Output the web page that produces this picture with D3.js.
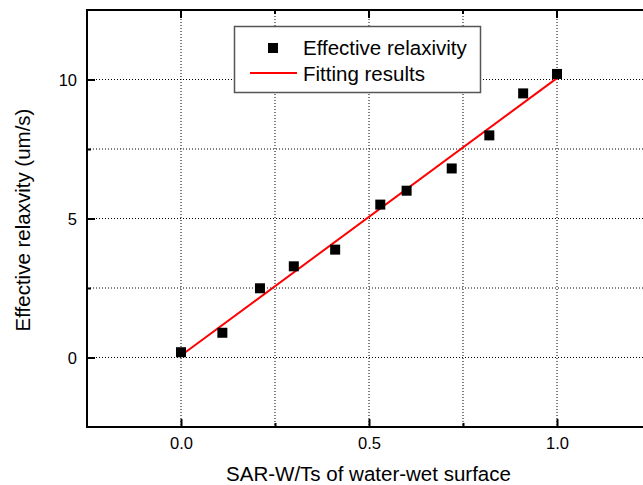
<!DOCTYPE html>
<html><head><meta charset="utf-8">
<script src="https://cdn.jsdelivr.net/npm/d3@7"></script>
<style>body{margin:0;background:#fff}svg{display:block;font-family:"Liberation Sans",Arial,sans-serif}</style>
</head><body><svg id="c" width="643" height="485"></svg>
<script>
const xValues = [0.0, 0.11, 0.21, 0.30, 0.41, 0.53, 0.60, 0.72, 0.82, 0.91, 1.0];
const yValues = [0.19, 0.89, 2.49, 3.28, 3.88, 5.50, 6.0, 6.8, 7.99, 9.5, 10.2];
const fitX = [0.0, 1.0];
const fitY = [0.07, 10.05];
const xTickLabels = ["0.0", "0.5", "1.0"];
const yTickLabels = ["0", "5", "10"];
const seriesNames = ["Effective relaxivity", "Fitting results"];

const svg = d3.select("#c");
const L = 87, T = 10, B = 427, R = 651;
const x = d3.scaleLinear().domain([-0.25, 1.25]).range([L, R]);
const y = d3.scaleLinear().domain([-2.5, 12.5]).range([B, T]);

const gridX = d3.range(-0.25, 1.2501, 0.25).filter(v => v > -0.2 && v < 1.2);
const gridY = d3.range(-2.5, 12.501, 2.5).filter(v => v > -2.4 && v < 12.4);

const g = svg.append("g");
g.selectAll(".gx").data(gridX).enter().append("line")
  .attr("x1", d => x(d)).attr("x2", d => x(d)).attr("y1", T).attr("y2", B)
  .attr("stroke", "#000").attr("stroke-width", 1).attr("stroke-dasharray", "1,2");
g.selectAll(".gy").data(gridY).enter().append("line")
  .attr("x1", L).attr("x2", 643).attr("y1", d => y(d)).attr("y2", d => y(d))
  .attr("stroke", "#000").attr("stroke-width", 1).attr("stroke-dasharray", "1,2");

const xMajor = xTickLabels.map(Number);
const yMajor = yTickLabels.map(Number);
const isMaj = (arr, d) => arr.some(v => Math.abs(v - d) < 1e-6);
const xAxis = d3.axisBottom(x).tickValues(gridX).tickSizeInner(-8).tickSizeOuter(0)
  .tickFormat(d => { const i = xMajor.findIndex(v => Math.abs(v - d) < 1e-6); return i >= 0 ? xTickLabels[i] : ""; });
const gx = svg.append("g").attr("transform", `translate(0,${B})`).call(xAxis);
gx.selectAll(".tick line").attr("y2", d => isMaj(xMajor, d) ? -8 : -4).attr("stroke-width", 2);
gx.selectAll(".tick text").attr("y", 22).attr("dy", null).attr("font-size", 16.5)
  .attr("font-family", "Liberation Sans, Arial, sans-serif").attr("fill", "#000");
gx.select(".domain").remove();

const yAxis = d3.axisLeft(y).tickValues(gridY).tickSizeInner(-8).tickSizeOuter(0)
  .tickFormat(d => { const i = yMajor.findIndex(v => Math.abs(v - d) < 1e-6); return i >= 0 ? yTickLabels[i] : ""; });
const gy = svg.append("g").attr("transform", `translate(${L},0)`).call(yAxis);
gy.selectAll(".tick line").attr("x2", d => isMaj(yMajor, d) ? 8 : 4).attr("stroke-width", 2);
gy.selectAll(".tick text").attr("x", -10).attr("dy", null).attr("y", 6).attr("font-size", 16.5)
  .attr("font-family", "Liberation Sans, Arial, sans-serif").attr("fill", "#000");
gy.select(".domain").remove();

const gt = svg.append("g");
gt.selectAll("line").data(gridX).enter().append("line")
  .attr("x1", d => x(d)).attr("x2", d => x(d)).attr("y1", T)
  .attr("y2", d => T + (isMaj(xMajor, d) ? 8 : 4))
  .attr("stroke", "#000").attr("stroke-width", 2);

svg.append("line").attr("x1", L).attr("x2", 643).attr("y1", T).attr("y2", T).attr("stroke", "#000").attr("stroke-width", 2);
svg.append("line").attr("x1", L).attr("x2", 643).attr("y1", B).attr("y2", B).attr("stroke", "#000").attr("stroke-width", 2);
svg.append("line").attr("x1", L).attr("x2", L).attr("y1", T - 1).attr("y2", B + 1).attr("stroke", "#000").attr("stroke-width", 2);

const line = d3.line().x(d => x(d[0])).y(d => y(d[1]));
svg.append("path").datum(fitX.map((v, i) => [v, fitY[i]])).attr("d", line)
  .attr("fill", "none").attr("stroke", "#ff0000").attr("stroke-width", 2);

const s = 10;
svg.selectAll(".pt").data(xValues.map((v, i) => [v, yValues[i]])).enter().append("rect")
  .attr("x", d => x(d[0]) - s / 2).attr("y", d => y(d[1]) - s / 2)
  .attr("width", s).attr("height", s).attr("fill", "#000");

const lg = svg.append("g");
lg.append("rect").attr("x", 234.5).attr("y", 26.5).attr("width", 246).attr("height", 66)
  .attr("fill", "#fff").attr("stroke", "#555").attr("stroke-width", 1.5);
lg.append("rect").attr("x", 268).attr("y", 43).attr("width", s).attr("height", s).attr("fill", "#000");
lg.append("line").attr("x1", 250).attr("x2", 297).attr("y1", 73).attr("y2", 73).attr("stroke", "#ff0000").attr("stroke-width", 2);
lg.append("text").attr("x", 303).attr("y", 54.5).attr("font-size", 20.5).text(seriesNames[0]);
lg.append("text").attr("x", 303).attr("y", 81).attr("font-size", 20.5).text(seriesNames[1]);

svg.append("text").attr("x", 368.5).attr("y", 481).attr("text-anchor", "middle").attr("font-size", 20.5)
  .text("SAR-W/Ts of water-wet surface");
svg.append("text").attr("transform", "translate(30,220) rotate(-90)").attr("text-anchor", "middle").attr("font-size", 20.5)
  .text("Effective relaxvity (um/s)");
</script></body></html>
